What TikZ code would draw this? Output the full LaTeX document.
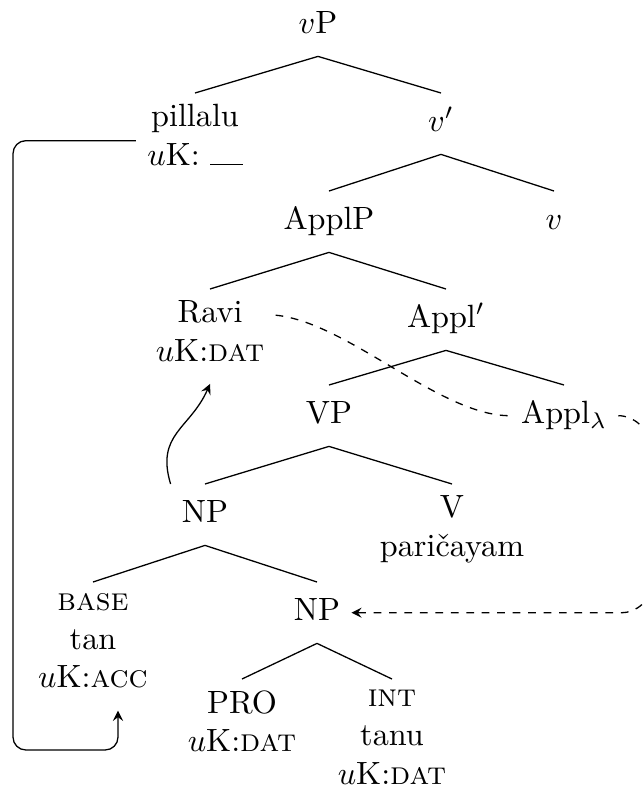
\documentclass[tikz,border=0pt]{standalone}
\usetikzlibrary{arrows}
\usetikzlibrary{calc}

\begin{document}
\begin{tikzpicture}[>=stealth, x=0.3106pt, y=-0.3106pt,
    tnode/.style={anchor=north, align=center,
      execute at begin node=\strut, execute at end node=\strut}]

      \useasboundingbox (0,0) rectangle (644,797);

      % level 0 and 1
      \node [tnode] (vP) at (318, -5) {$v$P};
      \node [tnode] (pillalu) at (195, 93) {pillalu\\$u$K: \rule{10pt}{0.4pt}};
      \node [tnode] (vbar) at (441, 93) {$v'$};

      % level 2
      \node [tnode] (applp) at (329, 191) {ApplP};
      \node [tnode] (vhead) at (554, 191) {$v$};

      % level 3
      \node [tnode] (ravi) at (210, 289) {Ravi\\$u$K:\textsc{dat}};
      \node [tnode] (applbar) at (446, 289) {Appl$'$};

      % level 4
      \node [tnode] (vp) at (329, 385) {VP};
      \node [tnode] (appll) at (564, 385) {Appl$_\lambda$};

      % level 5
      \node [tnode] (np1) at (205, 484) {NP};
      \node [tnode] (verb) at (452, 484) {V\\pari\v{c}ayam};

      % level 6
      \node [tnode] (base) at (93, 582) {\textsc{base}\\tan\\$u$K:\textsc{acc}};
      \node [tnode] (np2) at (317, 582) {NP};

      % level 7
      \node [tnode] (pro) at (242, 679) {PRO\\$u$K:\textsc{dat}};
      \node [tnode] (int) at (392, 679) {\textsc{int}\\tanu\\$u$K:\textsc{dat}};

      % branches
      \draw (vP.south) -- (pillalu.north);
      \draw (vP.south) -- (vbar.north);
      \draw (vbar.south) -- (applp.north);
      \draw (vbar.south) -- (vhead.north);
      \draw (applp.south) -- (ravi.north);
      \draw (applp.south) -- (applbar.north);
      \draw (applbar.south) -- (vp.north);
      \draw (applbar.south) -- (appll.north);
      \draw (vp.south) -- (np1.north);
      \draw (vp.south) -- (verb.north);
      \draw (np1.south) -- (base.north);
      \draw (np1.south) -- (np2.north);
      \draw (np2.south) -- (pro.north);
      \draw (np2.south) -- (int.north);

      % movement arrows
      \coordinate (rail) at (13, 750);
      \draw [->, rounded corners] (pillalu.west) -| (rail)
      -| ($(base.south)+(25,0)$);

      \draw [->] (np1.north west) .. controls +(-15,-50) and +(-20,45)
      .. (ravi.south);

      \coordinate (turn) at ($(np2.east)+(270,0)$);
      \draw [->, dash pattern=on 2.4pt off 2.4pt] (ravi.18)
      .. controls +(72,7) and +(-70,0) .. (appll.west)
      (appll.east) .. controls +(64,0) and +(64,0) .. (turn) -- (np2.east);

\end{tikzpicture}
\end{document}
